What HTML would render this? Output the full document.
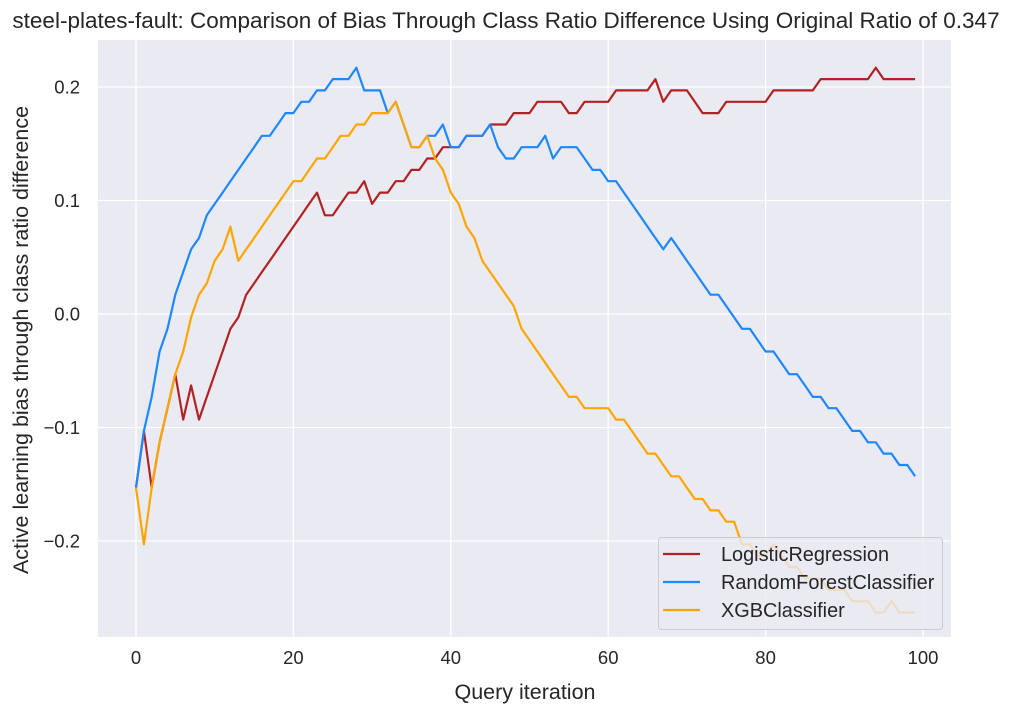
<!DOCTYPE html>
<html><head><meta charset="utf-8"><style>
body{margin:0;background:#fff;}
svg text{font-family:"Liberation Sans",Arial,sans-serif;fill:#262626;}
</style></head><body>
<svg id="chart" width="1013" height="716" xmlns="http://www.w3.org/2000/svg">
<text x="506" y="28" font-size="22.5" text-anchor="middle">steel-plates-fault: Comparison of Bias Through Class Ratio Difference Using Original Ratio of 0.347</text>
<rect x="98" y="40" width="853" height="597" fill="#eaeaf2"/>
<g id="grid"></g><g id="ticks"></g><g id="series"></g>
<text x="525" y="699" font-size="21.5" text-anchor="middle">Query iteration</text>
<text transform="translate(28,340) rotate(-90)" font-size="21.5" text-anchor="middle">Active learning bias through class ratio difference</text>
<g>
<rect x="658.5" y="537.5" width="284" height="92" rx="3" fill="#eaeaf2" fill-opacity="0.8" stroke="#cccccc"/>
<line x1="663" y1="554" x2="700" y2="554" stroke="#b22222" stroke-width="2.2"/>
<text x="721" y="561" font-size="19.9">LogisticRegression</text>
<line x1="663" y1="582" x2="700" y2="582" stroke="#1e88ff" stroke-width="2.2"/>
<text x="721" y="589" font-size="19.9">RandomForestClassifier</text>
<line x1="663" y1="610" x2="700" y2="610" stroke="#ffa500" stroke-width="2.2"/>
<text x="721" y="617" font-size="19.9">XGBClassifier</text>
</g>
</svg>
<script>
const xTicks=[0,20,40,60,80,100];
const yTicks=[-0.2,-0.1,0.0,0.1,0.2];
const yTickLabels=["\u22120.2","\u22120.1","0.0","0.1","0.2"];
const seriesNames=["LogisticRegression","RandomForestClassifier","XGBClassifier"];
const lrValues=[-0.153,-0.103,-0.153,-0.113,-0.083,-0.053,-0.093,-0.063,-0.093,-0.073,-0.053,-0.033,-0.013,-0.003,0.017,0.027,0.037,0.047,0.057,0.067,0.077,0.087,0.097,0.107,0.087,0.087,0.097,0.107,0.107,0.117,0.097,0.107,0.107,0.117,0.117,0.127,0.127,0.137,0.137,0.147,0.147,0.147,0.157,0.157,0.157,0.167,0.167,0.167,0.177,0.177,0.177,0.187,0.187,0.187,0.187,0.177,0.177,0.187,0.187,0.187,0.187,0.197,0.197,0.197,0.197,0.197,0.207,0.187,0.197,0.197,0.197,0.187,0.177,0.177,0.177,0.187,0.187,0.187,0.187,0.187,0.187,0.197,0.197,0.197,0.197,0.197,0.197,0.207,0.207,0.207,0.207,0.207,0.207,0.207,0.217,0.207,0.207,0.207,0.207,0.207];
const rfValues=[-0.153,-0.103,-0.073,-0.033,-0.013,0.017,0.037,0.057,0.067,0.087,0.097,0.107,0.117,0.127,0.137,0.147,0.157,0.157,0.167,0.177,0.177,0.187,0.187,0.197,0.197,0.207,0.207,0.207,0.217,0.197,0.197,0.197,0.177,0.187,0.167,0.147,0.147,0.157,0.157,0.167,0.147,0.147,0.157,0.157,0.157,0.167,0.147,0.137,0.137,0.147,0.147,0.147,0.157,0.137,0.147,0.147,0.147,0.137,0.127,0.127,0.117,0.117,0.107,0.097,0.087,0.077,0.067,0.057,0.067,0.057,0.047,0.037,0.027,0.017,0.017,0.007,-0.003,-0.013,-0.013,-0.023,-0.033,-0.033,-0.043,-0.053,-0.053,-0.063,-0.073,-0.073,-0.083,-0.083,-0.093,-0.103,-0.103,-0.113,-0.113,-0.123,-0.123,-0.133,-0.133,-0.143];
const xgbValues=[-0.153,-0.203,-0.153,-0.113,-0.083,-0.053,-0.033,-0.003,0.017,0.027,0.047,0.057,0.077,0.047,0.057,0.067,0.077,0.087,0.097,0.107,0.117,0.117,0.127,0.137,0.137,0.147,0.157,0.157,0.167,0.167,0.177,0.177,0.177,0.187,0.167,0.147,0.147,0.157,0.137,0.127,0.107,0.097,0.077,0.067,0.047,0.037,0.027,0.017,0.007,-0.013,-0.023,-0.033,-0.043,-0.053,-0.063,-0.073,-0.073,-0.083,-0.083,-0.083,-0.083,-0.093,-0.093,-0.103,-0.113,-0.123,-0.123,-0.133,-0.143,-0.143,-0.153,-0.163,-0.163,-0.173,-0.173,-0.183,-0.183,-0.203,-0.203,-0.213,-0.213,-0.203,-0.213,-0.223,-0.223,-0.233,-0.233,-0.233,-0.243,-0.243,-0.243,-0.253,-0.253,-0.253,-0.263,-0.263,-0.253,-0.263,-0.263,-0.263];
const colors=["#b22222","#1e88ff","#ffa500"];
const NS="http://www.w3.org/2000/svg";
const xs=v=>136+v*7.87;
const ys=v=>314-v*1135;
const grid=document.getElementById('grid'),ticks=document.getElementById('ticks'),ser=document.getElementById('series');
xTicks.forEach(t=>{
  const l=document.createElementNS(NS,'line');
  l.setAttribute('x1',xs(t));l.setAttribute('x2',xs(t));l.setAttribute('y1',40);l.setAttribute('y2',637);
  l.setAttribute('stroke','#fff');l.setAttribute('stroke-width','1.3');
  
  
  grid.appendChild(l);
  const tx=document.createElementNS(NS,'text');
  tx.setAttribute('x',xs(t));tx.setAttribute('y',664);tx.setAttribute('font-size','18.5');tx.setAttribute('text-anchor','middle');
  tx.textContent=t;
  
  
  ticks.appendChild(tx);
});
yTicks.forEach((t,i)=>{
  const l=document.createElementNS(NS,'line');
  l.setAttribute('x1',98);l.setAttribute('x2',951);l.setAttribute('y1',ys(t));l.setAttribute('y2',ys(t));
  l.setAttribute('stroke','#fff');l.setAttribute('stroke-width','1.3');
  
  
  grid.appendChild(l);
  const tx=document.createElementNS(NS,'text');
  tx.setAttribute('x',80);tx.setAttribute('y',ys(t)+6.5);tx.setAttribute('font-size','18.5');tx.setAttribute('text-anchor','end');
  tx.textContent=yTickLabels[i];
  
  
  ticks.appendChild(tx);
});
[lrValues,rfValues,xgbValues].forEach((vals,s)=>{
  const p=document.createElementNS(NS,'polyline');
  p.setAttribute('points',vals.map((v,i)=>xs(i).toFixed(1)+','+ys(v).toFixed(1)).join(' '));
  p.setAttribute('fill','none');p.setAttribute('stroke',colors[s]);p.setAttribute('stroke-width','2.2');p.setAttribute('stroke-linejoin','round');
  
  
  ser.appendChild(p);
});
</script>
</body></html>
